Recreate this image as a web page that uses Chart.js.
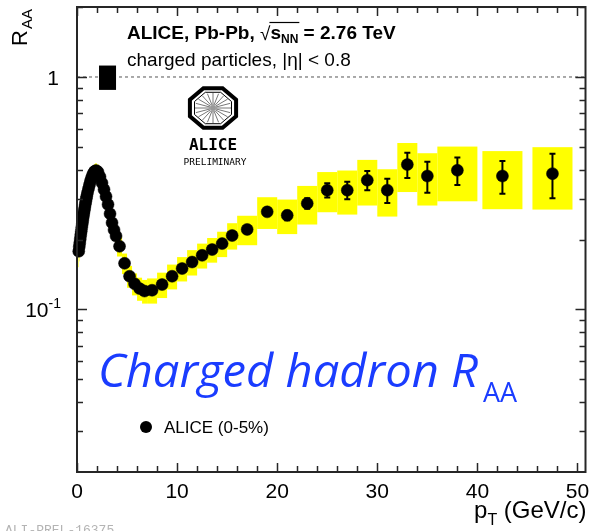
<!DOCTYPE html>
<html>
<head>
<meta charset="utf-8">
<title>Charged hadron RAA</title>
<script src="https://cdn.jsdelivr.net/npm/chart.js@4.4.1/dist/chart.umd.min.js"></script>
<style>
  html, body { margin: 0; padding: 0; background: #fff; }
  #wrap { width: 592px; height: 531px; }
</style>
</head>
<body>
<div id="wrap"><canvas id="raaChart" width="592" height="531"></canvas></div>
<script>
// Charged particle R_AA, Pb-Pb 0-5%, sqrt(sNN) = 2.76 TeV
const ptValues = [
    0.175, 0.225, 0.275, 0.325, 0.375, 0.425, 0.475, 0.525, 0.575, 0.625,
    0.675, 0.725, 0.775, 0.825, 0.875, 0.925, 0.975,
    1.05, 1.15, 1.25, 1.35, 1.45, 1.55, 1.65, 1.75, 1.85, 1.95,
    2.1, 2.3, 2.5, 2.7, 2.9, 3.1, 3.3, 3.5, 3.7, 3.9,
    4.25, 4.75, 5.25, 5.75, 6.25, 6.75,
    7.5, 8.5, 9.5, 10.5, 11.5, 12.5, 13.5, 14.5, 15.5,
    17, 19, 21, 23, 25, 27, 29, 31, 33, 35,
    38, 42.5, 47.5
];
const raaValues = [
    0.178, 0.186, 0.193, 0.201, 0.209, 0.217, 0.225, 0.233, 0.241, 0.250,
    0.258, 0.266, 0.274, 0.283, 0.291, 0.299, 0.307,
    0.318, 0.331, 0.344, 0.357, 0.368, 0.378, 0.386, 0.392, 0.395, 0.395,
    0.390, 0.372, 0.350, 0.328, 0.306, 0.283, 0.258, 0.236, 0.220, 0.207,
    0.187, 0.158, 0.139, 0.129, 0.123, 0.120,
    0.121, 0.128, 0.139, 0.150, 0.160, 0.171, 0.181, 0.192, 0.208,
    0.221, 0.263, 0.254, 0.286, 0.326, 0.326, 0.360, 0.326, 0.420, 0.375,
    0.397, 0.375, 0.384
];
const statErrors = [
    0.001, 0.001, 0.001, 0.001, 0.001, 0.001, 0.001, 0.001, 0.001, 0.001,
    0.001, 0.001, 0.001, 0.001, 0.001, 0.001, 0.001,
    0.001, 0.001, 0.001, 0.001, 0.001, 0.001, 0.001, 0.001, 0.001, 0.001,
    0.001, 0.001, 0.001, 0.001, 0.001, 0.001, 0.001, 0.001, 0.001, 0.001,
    0.001, 0.001, 0.001, 0.001, 0.001, 0.001,
    0.002, 0.002, 0.003, 0.003, 0.004, 0.004, 0.005, 0.005, 0.006,
    0.008, 0.010, 0.012, 0.015, 0.023, 0.028, 0.034, 0.039, 0.052, 0.057,
    0.054, 0.060, 0.083
];
const systErrors = [
    0.026, 0.025, 0.024, 0.023, 0.022, 0.022, 0.021, 0.021, 0.021, 0.021,
    0.021, 0.022, 0.022, 0.023, 0.023, 0.024, 0.025,
    0.026, 0.027, 0.028, 0.029, 0.029, 0.030, 0.030, 0.030, 0.030, 0.030,
    0.030, 0.029, 0.028, 0.027, 0.026, 0.024, 0.023, 0.021, 0.020, 0.019,
    0.018, 0.016, 0.015, 0.014, 0.014, 0.014,
    0.015, 0.016, 0.017, 0.018, 0.020, 0.021, 0.022, 0.024, 0.027,
    0.032, 0.041, 0.043, 0.054, 0.064, 0.070, 0.080, 0.075, 0.100, 0.095,
    0.105, 0.105, 0.115
];
// half width (GeV/c) of each systematic box
const boxHalfWidths = [
    0.025, 0.025, 0.025, 0.025, 0.025, 0.025, 0.025, 0.025, 0.025, 0.025,
    0.025, 0.025, 0.025, 0.025, 0.025, 0.025, 0.025,
    0.05, 0.05, 0.05, 0.05, 0.05, 0.05, 0.05, 0.05, 0.05, 0.05,
    0.1, 0.1, 0.1, 0.1, 0.1, 0.1, 0.1, 0.1, 0.1, 0.1,
    0.25, 0.25, 0.25, 0.25, 0.25, 0.25,
    0.5, 0.5, 0.5, 0.5, 0.5, 0.5, 0.5, 0.5, 0.5,
    1, 1, 1, 1, 1, 1, 1, 1, 1, 1,
    2, 2, 2
];

// normalisation uncertainty, drawn as a box on the unity line
const normUncertainty = 0.12;
const normBoxPt = [2.2, 3.9];

const xRange = [0, 50.8];
const yRange = [0.02, 2];
const xLabelTicks = [0, 10, 20, 30, 40, 50];
const xMinorStep = 2;
const yDecadeTicks = [0.1, 1];
const yMinorTicks = [0.03, 0.04, 0.05, 0.06, 0.07, 0.08, 0.09,
                     0.2, 0.3, 0.4, 0.5, 0.6, 0.7, 0.8, 0.9, 2];

const frameColor = '#262626';
const sans = '"Liberation Sans", Arial, Helvetica, sans-serif';

let raaChart;

document.addEventListener('DOMContentLoaded', function() {
    initializeChart();
});

// yellow systematic boxes and black stat bars under the markers
const uncertaintyPlugin = {
    id: 'uncertainties',
    beforeDatasetsDraw(chart) {
        const { ctx, chartArea, scales: { x, y } } = chart;
        ctx.save();
        ctx.beginPath();
        ctx.rect(chartArea.left, chartArea.top, chartArea.right - chartArea.left, chartArea.bottom - chartArea.top);
        ctx.clip();

        ctx.fillStyle = '#ffff00';
        ptValues.forEach((pt, i) => {
            const x0 = x.getPixelForValue(pt - boxHalfWidths[i]);
            const x1 = x.getPixelForValue(pt + boxHalfWidths[i]);
            const y0 = y.getPixelForValue(raaValues[i] + systErrors[i]);
            const y1 = y.getPixelForValue(raaValues[i] - systErrors[i]);
            ctx.fillRect(x0, y0, x1 - x0, y1 - y0);
        });

        ctx.strokeStyle = '#000';
        ctx.lineWidth = 2;
        ptValues.forEach((pt, i) => {
            const px = x.getPixelForValue(pt);
            const yHi = y.getPixelForValue(raaValues[i] + statErrors[i]);
            const yLo = y.getPixelForValue(raaValues[i] - statErrors[i]);
            ctx.beginPath();
            ctx.moveTo(px, yHi);
            ctx.lineTo(px, yLo);
            ctx.moveTo(px - 3, yHi);
            ctx.lineTo(px + 3, yHi);
            ctx.moveTo(px - 3, yLo);
            ctx.lineTo(px + 3, yLo);
            ctx.stroke();
        });
        ctx.restore();
    },
    afterDatasetsDraw(chart) {
        const { ctx, scales: { x, y } } = chart;
        const x0 = x.getPixelForValue(normBoxPt[0]);
        const x1 = x.getPixelForValue(normBoxPt[1]);
        const y0 = y.getPixelForValue(1 + normUncertainty);
        const y1 = y.getPixelForValue(1 - normUncertainty);
        ctx.save();
        ctx.fillStyle = '#000';
        ctx.fillRect(x0, y0, x1 - x0, y1 - y0);
        ctx.restore();
    }
};

// ROOT style frame: ticks on all four sides, pointing inwards
function drawFrame(chart) {
    const { ctx, chartArea: { left, right, top, bottom }, scales: { x, y } } = chart;
    ctx.save();
    ctx.strokeStyle = frameColor;
    ctx.lineWidth = 1.5;
    ctx.beginPath();
    for (let v = xRange[0]; v <= xRange[1]; v += xMinorStep) {
        const px = Math.round(x.getPixelForValue(v)) + 0.5;
        const len = xLabelTicks.includes(v) ? 9 : 6;
        ctx.moveTo(px, bottom);
        ctx.lineTo(px, bottom - len);
        ctx.moveTo(px, top);
        ctx.lineTo(px, top + len);
    }
    const yTicks = yDecadeTicks.map(v => [v, 10]).concat(yMinorTicks.map(v => [v, 6]));
    yTicks.forEach(([v, len]) => {
        const py = Math.round(y.getPixelForValue(v)) + 0.5;
        ctx.moveTo(left, py);
        ctx.lineTo(left + len, py);
        ctx.moveTo(right, py);
        ctx.lineTo(right - len, py);
    });
    ctx.stroke();

    ctx.lineWidth = 2;
    ctx.strokeRect(left, top, right - left, bottom - top);
    ctx.restore();
}

function drawAxisLabels(chart) {
    const { ctx, chartArea: { left, right, bottom }, scales: { x, y } } = chart;
    ctx.save();
    ctx.fillStyle = '#000';

    // x tick labels
    ctx.font = '21px ' + sans;
    ctx.textAlign = 'center';
    ctx.textBaseline = 'alphabetic';
    xLabelTicks.forEach(v => {
        ctx.fillText(String(v), x.getPixelForValue(v), bottom + 26);
    });

    // y tick labels, decades only
    ctx.textAlign = 'right';
    yDecadeTicks.forEach(v => {
        const py = y.getPixelForValue(v);
        if (v === 1) {
            ctx.font = '21px ' + sans;
            ctx.fillText('1', left - 18, py + 8);
        } else {
            const exp = String(Math.round(Math.log10(v)));
            ctx.font = '14px ' + sans;
            const ew = ctx.measureText(exp).width;
            ctx.fillText(exp, left - 16, py - 1);
            ctx.font = '21px ' + sans;
            ctx.fillText('10', left - 16 - ew, py + 8);
        }
    });

    // x axis title
    ctx.textAlign = 'left';
    ctx.font = '24px ' + sans;
    const unit = ' (GeV/c)';
    const uw = ctx.measureText(unit).width;
    const pw = ctx.measureText('p').width;
    ctx.font = '16px ' + sans;
    const tw = ctx.measureText('T').width;
    const xEnd = right + 1;
    const xStart = xEnd - uw - tw - pw;
    ctx.font = '24px ' + sans;
    ctx.fillText('p', xStart, bottom + 46);
    ctx.fillText(unit, xStart + pw + tw, bottom + 46);
    ctx.font = '16px ' + sans;
    ctx.fillText('T', xStart + pw, bottom + 53);

    // y axis title, rotated
    ctx.save();
    ctx.translate(27, 46);
    ctx.rotate(-Math.PI / 2);
    ctx.font = '22px ' + sans;
    ctx.fillText('R', 0, 0);
    const rw = ctx.measureText('R').width;
    ctx.font = '15px ' + sans;
    ctx.fillText('AA', rw + 1, 5);
    ctx.restore();

    ctx.restore();
}

// square root sign with an overline, as TLatex draws it
function drawSqrtLabel(ctx, xStart, baseline) {
    const pieces = [
        { text: 'ALICE, Pb-Pb, ', font: 'bold 19px ' + sans, dy: 0 },
        { text: '\u221A', font: '19px ' + sans, dy: 1 },
        { text: 's', font: 'bold 19px ' + sans, dy: 0, over: true },
        { text: 'NN', font: 'bold 12px ' + sans, dy: 4, over: true },
        { text: ' = 2.76 TeV', font: 'bold 19px ' + sans, dy: 0 }
    ];
    let px = xStart;
    let overStart = null, overEnd = null;
    pieces.forEach(p => {
        ctx.font = p.font;
        ctx.fillText(p.text, px, baseline + p.dy);
        const w = ctx.measureText(p.text).width;
        if (p.over) {
            if (overStart === null) overStart = px - 1;
            overEnd = px + w + 1;
        }
        px += w;
    });
    ctx.lineWidth = 1.2;
    ctx.beginPath();
    ctx.moveTo(overStart, baseline - 16.5);
    ctx.lineTo(overEnd, baseline - 16.5);
    ctx.stroke();
}

function drawLogo(ctx, cx, cy) {
    ctx.save();
    // spokes
    ctx.strokeStyle = '#777';
    ctx.lineWidth = 1;
    for (let k = 0; k < 20; k++) {
        const a = k * Math.PI / 10;
        ctx.beginPath();
        ctx.moveTo(cx + 3 * Math.cos(a), cy + 3 * Math.sin(a));
        ctx.lineTo(cx + 18 * Math.cos(a), cy + 15 * Math.sin(a));
        ctx.stroke();
    }
    ctx.fillStyle = '#999';
    ctx.beginPath();
    ctx.arc(cx, cy, 3, 0, Math.PI * 2);
    ctx.fill();
    // octagon rim
    const octagon = (rx, ry) => {
        ctx.beginPath();
        for (let k = 0; k < 8; k++) {
            const a = Math.PI / 8 + k * Math.PI / 4;
            ctx.lineTo(cx + rx * Math.cos(a), cy + ry * Math.sin(a));
        }
        ctx.closePath();
        ctx.stroke();
    };
    ctx.strokeStyle = '#000';
    ctx.lineWidth = 4;
    octagon(25, 21.5);
    ctx.lineWidth = 1;
    octagon(20, 17);

    ctx.fillStyle = '#000';
    ctx.textAlign = 'center';
    ctx.font = 'bold 16px "DejaVu Sans Mono", monospace';
    ctx.fillText('ALICE', cx, cy + 42);
    ctx.font = '9.5px "DejaVu Sans Mono", monospace';
    ctx.fillText('PRELIMINARY', cx + 2, cy + 57);
    ctx.restore();
}

function drawTexts(chart) {
    const { ctx } = chart;
    ctx.save();
    ctx.fillStyle = '#000';
    ctx.strokeStyle = '#000';
    ctx.textAlign = 'left';
    ctx.textBaseline = 'alphabetic';

    drawSqrtLabel(ctx, 127, 39);
    ctx.font = '19px ' + sans;
    ctx.fillText('charged particles, |\u03B7| < 0.8', 127, 66);

    drawLogo(ctx, 213, 108);

    // legend entry
    ctx.beginPath();
    ctx.arc(146, 427, 6, 0, Math.PI * 2);
    ctx.fill();
    ctx.font = '17px ' + sans;
    ctx.fillText('ALICE (0-5%)', 164, 433);

    // large blue caption
    ctx.fillStyle = '#1a3cff';
    ctx.font = 'italic 45px "Open Sans", sans-serif';
    const main = 'Charged hadron R';
    const mw = ctx.measureText(main).width;
    ctx.save();
    ctx.translate(98, 387);
    ctx.scale(380 / mw, 1);
    ctx.fillText(main, 0, 0);
    ctx.restore();
    ctx.font = '27px "Open Sans", sans-serif';
    ctx.fillText('AA', 483, 402);

    // figure id
    ctx.fillStyle = '#b4b4b4';
    ctx.font = '13px "Liberation Mono", monospace';
    ctx.fillText('ALI-PREL-16375', 5, 534);
    ctx.restore();
}

const decorationPlugin = {
    id: 'decorations',
    beforeDraw(chart) {
        const { ctx, width, height } = chart;
        ctx.save();
        ctx.fillStyle = '#fff';
        ctx.fillRect(0, 0, width, height);
        ctx.restore();
    },
    afterDraw(chart) {
        drawFrame(chart);
        drawAxisLabels(chart);
        drawTexts(chart);
    }
};

function initializeChart() {
    const ctx = document.getElementById('raaChart').getContext('2d');
    const points = ptValues.map((pt, i) => ({ x: pt, y: raaValues[i] }));

    raaChart = new Chart(ctx, {
        type: 'scatter',
        data: {
            datasets: [{
                label: 'ALICE (0-5%)',
                data: points,
                backgroundColor: '#000',
                borderColor: '#000',
                borderWidth: 0.5,
                pointRadius: 6,
                pointHoverRadius: 6,
                clip: false,
                order: 0
            }, {
                type: 'line',
                label: 'unity',
                data: [{ x: xRange[0], y: 1 }, { x: xRange[1], y: 1 }],
                borderColor: '#555',
                borderWidth: 1,
                borderDash: [3, 3],
                pointRadius: 0,
                fill: false,
                order: 1
            }]
        },
        options: {
            responsive: false,
            animation: false,
            events: [],
            layout: {
                padding: { left: 77, right: 5, top: 7, bottom: 59 }
            },
            scales: {
                x: {
                    type: 'linear',
                    min: xRange[0],
                    max: xRange[1],
                    display: false
                },
                y: {
                    type: 'logarithmic',
                    min: yRange[0],
                    max: yRange[1],
                    display: false
                }
            },
            plugins: {
                legend: { display: false },
                tooltip: { enabled: false }
            }
        },
        plugins: [uncertaintyPlugin, decorationPlugin]
    });
}
</script>
</body>
</html>
